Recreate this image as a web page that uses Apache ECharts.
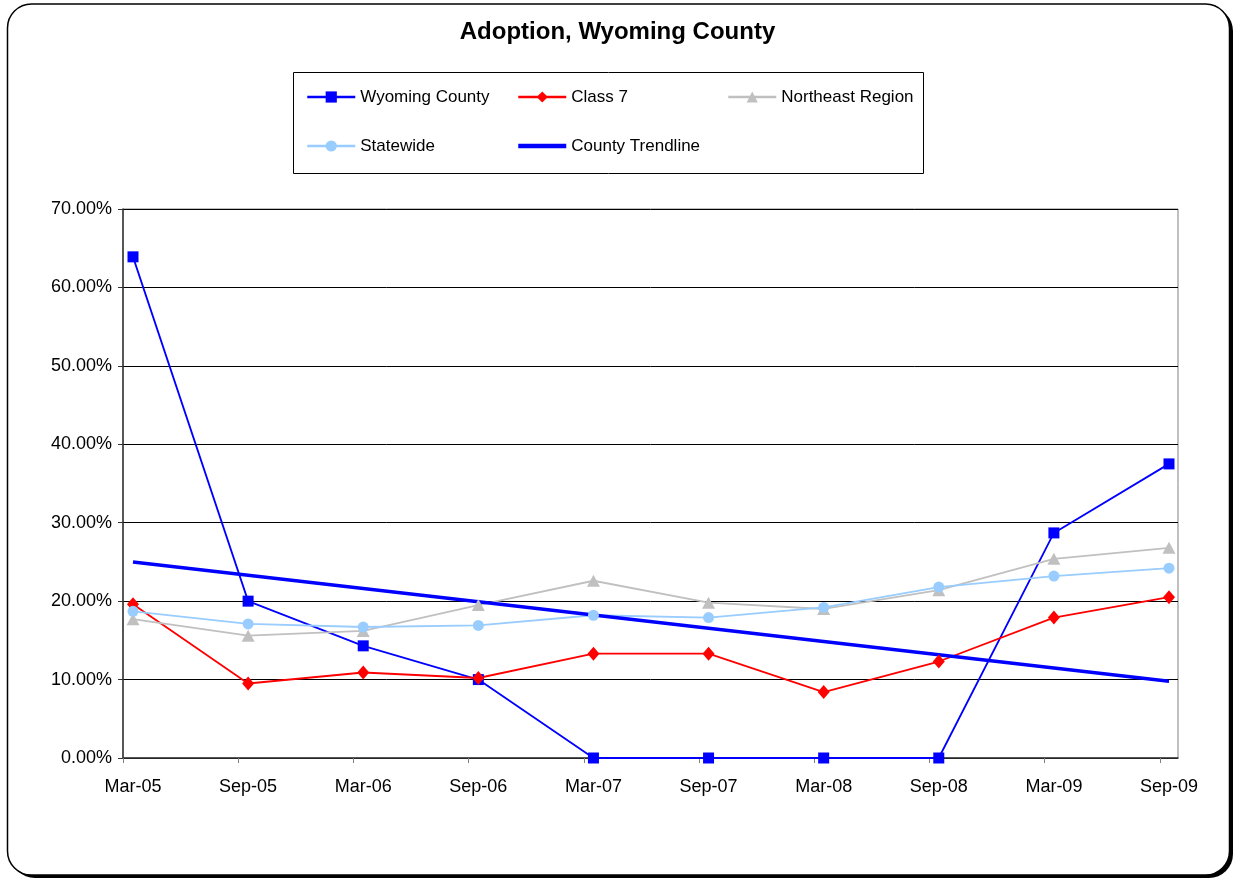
<!DOCTYPE html>
<html>
<head>
<meta charset="utf-8">
<script src="https://cdn.jsdelivr.net/npm/echarts@6/dist/echarts.min.js"></script>
<style>
  html, body { margin: 0; padding: 0; background: #fff; }
  #chart { width: 1235px; height: 880px; }
</style>
</head>
<body>
<div id="chart"></div>
<script>
// chart data (percent values)
const categories = ['Mar-05', 'Sep-05', 'Mar-06', 'Sep-06', 'Mar-07', 'Sep-07', 'Mar-08', 'Sep-08', 'Mar-09', 'Sep-09']
const wyomingCounty = [63.9, 20.0, 14.3, 10.0, 0, 0, 0, 0, 28.7, 37.5]
const class7 = [19.6, 9.5, 10.9, 10.2, 13.3, 13.3, 8.4, 12.3, 17.9, 20.5]
const northeastRegion = [17.7, 15.6, 16.2, 19.5, 22.6, 19.8, 19.0, 21.4, 25.4, 26.8]
const statewide = [18.7, 17.1, 16.7, 16.9, 18.2, 17.9, 19.2, 21.8, 23.2, 24.2]
// trendline: start and end, straight line between
const countyTrendline = [25.0, null, null, null, null, null, null, null, null, 9.8]
const yTicks = { min: 0, max: 70, interval: 10 }

const FONT = '"Liberation Sans", Arial, sans-serif'

const chart = echarts.init(document.getElementById('chart'))

// legend laid out in fixed columns like the original
const legendBase = {
    orient: 'vertical', top: 82, itemWidth: 48, itemHeight: 14, itemGap: 29,
    textStyle: { fontFamily: FONT, fontSize: 17, color: '#000', lineHeight: 20 },
    z: 10
}
const legendLine = { width: 2.5 }

const option = {
    animation: false,
    backgroundColor: '#fff',
    title: {
        text: 'Adoption, Wyoming County',
        left: 'center',
        top: 15,
        textStyle: { fontFamily: FONT, fontSize: 24, fontWeight: 'bold', color: '#000' }
    },
    graphic: [
        // outer rounded frame with a hard shadow at the bottom right
        {
            type: 'rect', z: -2, silent: true,
            shape: { x: 11, y: 7, width: 1222, height: 871, r: 24 },
            style: { fill: '#000' }
        },
        {
            type: 'rect', z: -1, silent: true,
            shape: { x: 7.5, y: 4, width: 1222, height: 871, r: 24 },
            style: { fill: '#fff', stroke: '#000', lineWidth: 1.5 }
        },
        // legend box
        {
            type: 'rect', z: 0, silent: true,
            shape: { x: 293.5, y: 72.5, width: 630, height: 101 },
            style: { fill: '#fff', stroke: '#000', lineWidth: 1 }
        }
    ],
    legend: [
        Object.assign({}, legendBase, {
            left: 301,
            data: [
                { name: 'Wyoming County', lineStyle: legendLine },
                { name: 'Statewide', lineStyle: legendLine }
            ]
        }),
        Object.assign({}, legendBase, {
            left: 511,
            data: [
                { name: 'Class 7', lineStyle: legendLine },
                { name: 'County Trendline', lineStyle: { width: 4.5 }, itemStyle: { opacity: 0 } }
            ]
        }),
        Object.assign({}, legendBase, {
            left: 722,
            data: [{ name: 'Northeast Region', lineStyle: legendLine }]
        })
    ],
    grid: [
        // frame grid (axes, gridlines, ticks)
        { left: 123, right: 57, top: 209, bottom: 122, show: true, borderColor: '#808080', borderWidth: 1, backgroundColor: 'transparent' },
        // data grid (points sit inside the frame)
        { left: 133, right: 66, top: 209, bottom: 122 }
    ],
    xAxis: [
        {
            gridIndex: 0, type: 'value', min: 0, max: 9.158,
            axisLine: { show: true, lineStyle: { color: '#333', width: 1.5 } },
            axisTick: { show: true, length: 5, lineStyle: { color: '#808080' }, customValues: categories.map((c, i) => i) },
            axisLabel: { show: false },
            splitLine: { show: false }
        },
        {
            gridIndex: 1, type: 'category', data: categories, boundaryGap: false,
            axisLine: { show: false },
            axisTick: { show: false },
            axisLabel: { fontFamily: FONT, fontSize: 18, color: '#000', margin: 20, interval: 0 },
            splitLine: { show: false }
        }
    ],
    yAxis: [
        {
            gridIndex: 0, type: 'value', min: yTicks.min, max: yTicks.max, interval: yTicks.interval,
            axisLine: { show: true, lineStyle: { color: '#333', width: 1.5 } },
            axisTick: { show: true, length: 5, lineStyle: { color: '#333' } },
            axisLabel: { fontFamily: FONT, fontSize: 18, color: '#000', margin: 11, formatter: v => v.toFixed(2) + '%' },
            splitLine: { show: true, lineStyle: { color: '#000', width: 1 } }
        },
        {
            gridIndex: 1, type: 'value', min: yTicks.min, max: yTicks.max, interval: yTicks.interval, show: false,
            splitLine: { show: false }
        }
    ],
    series: [
        {
            name: 'Wyoming County', type: 'line', data: wyomingCounty,
            xAxisIndex: 1, yAxisIndex: 1,
            symbol: 'rect', symbolSize: 11,
            lineStyle: { color: '#0000ff', width: 1.8 },
            itemStyle: { color: '#0000ff' }
        },
        {
            name: 'Class 7', type: 'line', data: class7,
            xAxisIndex: 1, yAxisIndex: 1,
            symbol: 'diamond', symbolSize: [12, 14],
            lineStyle: { color: '#ff0000', width: 1.8 },
            itemStyle: { color: '#ff0000' }
        },
        {
            name: 'Northeast Region', type: 'line', data: northeastRegion,
            xAxisIndex: 1, yAxisIndex: 1,
            symbol: 'triangle', symbolSize: [13, 12],
            lineStyle: { color: '#c0c0c0', width: 1.8 },
            itemStyle: { color: '#c0c0c0' }
        },
        {
            name: 'Statewide', type: 'line', data: statewide,
            xAxisIndex: 1, yAxisIndex: 1,
            symbol: 'circle', symbolSize: 11,
            lineStyle: { color: '#99ccff', width: 1.8 },
            itemStyle: { color: '#99ccff' }
        },
        {
            name: 'County Trendline', type: 'line', data: countyTrendline,
            xAxisIndex: 1, yAxisIndex: 1,
            connectNulls: true, showSymbol: false, symbol: 'none',
            lineStyle: { color: '#0000ff', width: 3.5 },
            itemStyle: { color: '#0000ff' }
        }
    ]
}

chart.setOption(option)
</script>
</body>
</html>
